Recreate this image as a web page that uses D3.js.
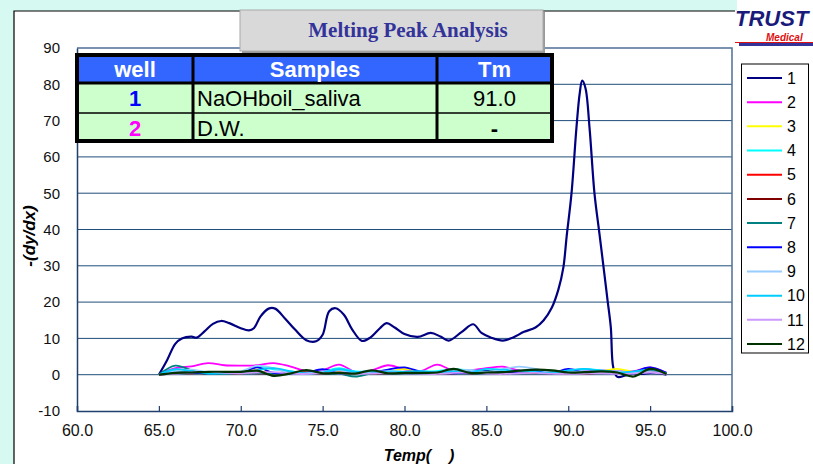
<!DOCTYPE html>
<html>
<head>
<meta charset="utf-8">
<script src="https://cdn.jsdelivr.net/npm/d3@7"></script>
<style>
  body { margin: 0; background: #d6faf2; }
  svg { display: block; font-family: "Liberation Sans", Arial, sans-serif; }
</style>
</head>
<body>
<svg id="chart" width="813" height="464"></svg>
<script>
// melting peak data
const wells = ["1","2","3","4","5","6","7","8","9","10","11","12"];
const wellColors = ["#000080","#ff00ff","#ffff00","#00ffff","#ff0000","#800000",
  "#008080","#0000ff","#99ccff","#00ccff","#cc99ff","#003300"];

// well 1 has its own sampling (sharp peak)
const temps1 = [65,65.5,66,66.4,67,67.3,67.8,68.3,68.8,69.3,70,70.5,70.8,71.2,71.7,72.1,72.7,73.3,74,74.6,
  75,75.4,75.8,76.3,76.8,77.4,77.9,78.5,78.9,79.4,80,80.8,81.6,82.2,82.7,83.5,84.2,84.7,85.3,86,
  86.6,87.3,88,88.5,89,89.4,89.7,89.9,90.2,90.5,90.7,90.85,91.05,91.3,91.6,91.9,92.2,92.4,92.6,92.75,
  93,93.5,94,94.5,95,95.5,96];
const vals1 = [0,4,8.5,10,10.5,10.2,12,14,14.8,14.2,12.8,12.2,12.8,16,18.2,18.2,15.5,12.5,9.5,9.2,
  11,17.5,18.3,16.5,12.5,9.3,10.2,12.8,14.2,13,11.2,10.4,11.5,10.5,9.4,11.8,13.9,11.5,10.2,9.4,
  10.2,11.8,13,15,18.5,23.5,29.5,38,50,68,77.5,81,79,68,50,39,28,20.5,13,2,
  -0.6,-0.2,0.3,0.2,0.5,0.4,0];

const temps = [65,66,67,68,69,70,71,72,73,74,75,76,77,78,79,80,81,82,83,84,85,86,87,88,89,90,91,92,93,94,95,96];
const vals2  = [0,1.8,2.3,3.2,2.6,2.5,2.6,3.2,2.3,1.0,1.2,2.8,0.8,1.2,2.6,1.5,1.0,2.8,1.0,1.2,1.8,2.2,1.2,1.0,0.8,0.6,1.0,1.2,1.0,1.0,2.0,0.5];
const vals3  = [0,0.8,0.5,0.3,0.6,0.5,2.0,0.4,0.6,0.8,0.5,0.6,0.3,0.5,0.8,1.6,0.8,0.5,0.7,0.6,0.9,0.5,0.8,0.6,0.7,0.5,0.6,0.9,1.6,0.8,0.9,0.3];
const vals4  = [0,1.2,0.9,0.5,0.7,0.8,2.2,1.5,0.9,0.6,0.8,1.8,0.9,1.0,1.1,0.7,0.9,1.0,1.5,1.2,1.0,0.9,1.1,1.3,0.8,1.0,1.5,1.2,0.8,0.7,1.2,0.4];
const vals5  = [0,0.5,0.4,0.6,0.5,0.4,0.7,0.5,0.6,0.5,0.4,0.6,0.5,0.5,0.7,0.5,0.6,0.5,0.4,0.6,0.5,0.7,0.5,0.6,0.5,0.4,0.6,0.5,0.7,0.6,1.3,0.2];
const vals6  = [0,0.4,0.6,0.3,0.5,0.6,0.4,0.3,0.5,0.7,0.4,0.5,0.6,0.3,0.4,0.6,0.5,0.3,0.6,0.4,0.5,0.3,0.6,0.5,0.4,0.6,0.3,0.5,0.4,0.6,0.8,0.2];
const vals7  = [0,2.5,1.2,0.2,0.3,0.6,0.5,0.3,0.4,0.5,0.4,0.3,-0.5,0.4,0.8,0.6,0.5,0.4,0.9,1.0,1.1,0.8,1.0,0.9,0.6,0.5,0.7,0.8,0.5,0.4,1.5,0.3];
const vals8  = [0,0.6,0.5,0.4,0.5,0.6,2.0,0.5,0.4,0.5,1.5,0.4,0.5,0.6,1.4,2.0,0.8,0.5,0.4,0.6,0.9,0.5,0.8,1.0,0.4,1.6,0.6,0.5,0.4,0.8,2.0,0.5];
const vals9  = [0,1.0,1.4,0.7,0.8,0.9,2.5,1.8,0.5,0.4,0.9,1.2,0.6,0.8,1.0,0.9,0.7,0.6,1.0,1.3,0.8,1.5,2.2,1.6,0.6,0.8,0.9,0.7,1.0,0.6,0.8,0.3];
const vals10 = [0,1.5,1.0,0.3,0.4,0.5,1.2,1.8,1.0,0.3,0.6,1.5,0.8,0.9,0.7,0.8,1.0,0.6,0.9,0.7,1.6,1.4,1.0,0.8,0.5,1.2,1.6,1.1,0.6,0.9,1.4,0.4];
const vals11 = [0,0.3,0.6,0.8,0.5,0.4,0.6,0.7,0.3,0.2,0.5,0.4,0.2,0.3,0.5,0.4,0.3,0.2,0.5,0.6,0.3,0.2,0.4,0.5,0.3,0.2,0.3,0.4,0.2,0.3,0.6,0.2];
const vals12 = [0,0.5,0.6,0.8,0.8,0.8,1.1,-0.3,0.3,1.3,0.4,0.5,0.3,1.2,0.4,0.5,0.5,0.6,1.6,0.5,0.6,0.7,1.1,1.4,1.2,0.6,0.7,0.9,0.6,-0.5,1.6,0.2];

const xTicks = [60,65,70,75,80,85,90,95,100];
const yTicks = [-10,0,10,20,30,40,50,60,70,80,90];

const tableHeader = ["well","Samples","Tm"];
const tableWells = ["1","2"];
const tableSamples = ["NaOHboil_saliva","D.W."];
const tableTm = ["91.0","-"];
const tableWellColors = ["#0000ff","#ff00ff"];

const svg = d3.select("#chart");

// white panel
svg.append("rect").attr("x",14).attr("y",11).attr("width",810).attr("height",470).attr("fill","#fff");
svg.append("path").attr("d","M14,464V11H735").attr("fill","none").attr("stroke","#000").attr("stroke-width",1.2);

const x = d3.scaleLinear().domain([60,100]).range([77,732]);
const y = d3.scaleLinear().domain([-10,90]).range([411,48]);

// grid
svg.append("g").selectAll("line").data(yTicks.filter(d => d > -10 && d < 90)).join("line")
  .attr("x1",77).attr("x2",732).attr("y1",d => y(d)).attr("y2",d => y(d))
  .attr("stroke","#1f4e79").attr("stroke-width",1);

// plot frame
svg.append("path").attr("d",`M${x(60)},${y(90)}H${x(100)}V${y(-10)}`)
  .attr("fill","none").attr("stroke","#4f6f96").attr("stroke-width",1.5);

// axes
const xAxis = svg.append("g").attr("transform",`translate(0,${y(-10)})`)
  .call(d3.axisBottom(x).tickValues(xTicks).tickSize(-5).tickPadding(14).tickFormat(d3.format(".1f")));
const yAxis = svg.append("g").attr("transform",`translate(${x(60)},0)`)
  .call(d3.axisLeft(y).tickValues(yTicks).tickSize(0).tickPadding(17).tickFormat(d => String(d)));
[xAxis,yAxis].forEach(g => {
  g.select(".domain").attr("stroke","#1f3f6f").attr("stroke-width",1.5);
  g.selectAll(".tick line").attr("stroke","#1f3f6f").attr("stroke-width",1.2);
  g.selectAll("text").attr("fill","#111").attr("font-family","Liberation Sans, Arial").attr("font-size",15);
});
xAxis.selectAll(".tick text").attr("font-size",16);

svg.append("text").attr("transform","translate(35,236) rotate(-90)").attr("text-anchor","middle")
  .attr("font-size",17).attr("font-weight","bold").attr("font-style","italic").text("-(dy/dx)");
svg.append("text").attr("x",419).attr("y",461).attr("text-anchor","middle")
  .attr("font-size",16).attr("font-weight","bold").attr("font-style","italic").attr("xml:space","preserve").text("Temp(    )");

// series
const smallVals = [vals2,vals3,vals4,vals5,vals6,vals7,vals8,vals9,vals10,vals11,vals12];
const series = [temps1.map((t,i) => [t, vals1[i]])]
  .concat(smallVals.map(v => temps.map((t,i) => [t, v[i]])));
const line = d3.line().x(d => x(d[0])).y(d => y(d[1])).curve(d3.curveCatmullRom.alpha(0.5));
svg.append("g").selectAll("path").data(series).join("path")
  .attr("d",line).attr("fill","none")
  .attr("stroke",(d,i) => wellColors[i]).attr("stroke-width",(d,i) => i === 0 || i === 11 ? 2.2 : 1.8)
  .attr("stroke-linejoin","round");

// title box
svg.append("rect").attr("x",242).attr("y",12).attr("width",303).attr("height",41).attr("fill","#999");
svg.append("rect").attr("x",240).attr("y",10).attr("width",303).attr("height",41)
  .attr("fill","#d9d9d9").attr("stroke","#aaa").attr("stroke-width",1);
svg.append("text").attr("x",408).attr("y",37).attr("text-anchor","middle")
  .attr("font-family","Liberation Serif, Times New Roman, serif").attr("font-weight","bold")
  .attr("font-size",21).attr("fill","#333399").text("Melting Peak Analysis");

// sample table
const colX = [77,193,437,552];
const rowY = [55,83,113,141];
const tbl = svg.append("g");
tbl.append("rect").attr("x",colX[0]).attr("y",rowY[0]).attr("width",colX[3]-colX[0]).attr("height",rowY[1]-rowY[0]).attr("fill","#3366ff");
tbl.append("rect").attr("x",colX[0]).attr("y",rowY[1]).attr("width",colX[3]-colX[0]).attr("height",rowY[3]-rowY[1]).attr("fill","#ccffcc");
tbl.append("line").attr("x1",colX[0]).attr("x2",colX[3]).attr("y1",rowY[2]).attr("y2",rowY[2]).attr("stroke","#000").attr("stroke-width",1.5);
tbl.append("line").attr("x1",colX[0]).attr("x2",colX[3]).attr("y1",rowY[1]).attr("y2",rowY[1]).attr("stroke","#000").attr("stroke-width",3);
[colX[1],colX[2]].forEach(cx => tbl.append("line").attr("x1",cx).attr("x2",cx).attr("y1",rowY[0]).attr("y2",rowY[3]).attr("stroke","#000").attr("stroke-width",3));
tbl.append("rect").attr("x",colX[0]).attr("y",rowY[0]).attr("width",colX[3]-colX[0]).attr("height",rowY[3]-rowY[0])
  .attr("fill","none").attr("stroke","#000").attr("stroke-width",4);
tableHeader.forEach((h,i) => {
  tbl.append("text").attr("x",(colX[i]+colX[i+1])/2).attr("y",rowY[0]+22).attr("text-anchor","middle")
    .attr("font-size",22).attr("font-weight","bold").attr("fill","#fff").text(h);
});
tableWells.forEach((w,r) => {
  const by = rowY[r+1]+23;
  tbl.append("text").attr("x",(colX[0]+colX[1])/2).attr("y",by).attr("text-anchor","middle")
    .attr("font-size",22).attr("font-weight","bold").attr("fill",tableWellColors[r]).text(w);
  tbl.append("text").attr("x",colX[1]+4).attr("y",by)
    .attr("font-size",22).attr("fill","#000").text(tableSamples[r]);
  tbl.append("text").attr("x",(colX[2]+colX[3])/2).attr("y",by).attr("text-anchor","middle")
    .attr("font-size",22).attr("fill","#000").attr("font-weight",tableTm[r] === "-" ? "bold" : "normal").text(tableTm[r]);
});

// legend
const lg = svg.append("g");
lg.append("rect").attr("x",741.5).attr("y",64).attr("width",67).attr("height",289)
  .attr("fill","#fff").attr("stroke","#000").attr("stroke-width",1);
const ly = d3.scalePoint().domain(wells).range([78,344]);
wells.forEach((w,i) => {
  lg.append("line").attr("x1",747).attr("x2",782).attr("y1",ly(w)).attr("y2",ly(w))
    .attr("stroke",wellColors[i]).attr("stroke-width",2);
  lg.append("text").attr("x",787).attr("y",ly(w)).attr("dy","0.36em")
    .attr("font-size",16).attr("fill","#000").text(w);
});

// logo
const logo = svg.append("g");
logo.append("rect").attr("x",737).attr("y",0).attr("width",76).attr("height",48).attr("fill","#fff");
logo.append("text").attr("x",735).attr("y",26).attr("font-size",22).attr("font-weight","900")
  .attr("font-style","italic").attr("fill","#1a1a7a").text("TRUST");
logo.append("text").attr("x",766).attr("y",41).attr("font-size",10).attr("font-weight","bold")
  .attr("font-style","italic").attr("fill","#e01010").text("Medical");
logo.append("rect").attr("x",735).attr("y",42).attr("width",78).attr("height",1).attr("fill","#e01010");
logo.append("rect").attr("x",739).attr("y",43).attr("width",74).attr("height",3).attr("fill","#333399");
</script>
</body>
</html>
